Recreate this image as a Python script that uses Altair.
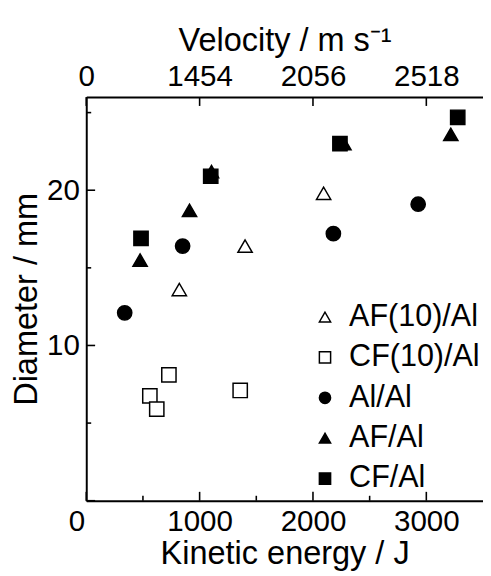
import altair as alt
import pandas as pd

series = ["AF(10)/Al", "CF(10)/Al", "Al/Al", "AF/Al", "CF/Al"]
shapes = ["triangle-up", "square", "circle", "triangle-up", "square"]
fills = ["white", "white", "black", "black", "black"]
strokes = ["black", "black", "black", "black", "black"]

af10_energy = [821, 1401, 2094]
af10_diam = [13.6, 16.4, 19.8]
cf10_energy = [561, 622, 729, 1358]
cf10_diam = [6.75, 5.9, 8.1, 7.1]
alal_energy = [339, 850, 2180, 2928]
alal_diam = [12.1, 16.4, 17.2, 19.1]
af_energy = [475, 911, 1105, 2273, 3216]
af_diam = [15.5, 18.7, 21.2, 23.0, 23.6]
cf_energy = [483, 1098, 2238, 3277]
cf_diam = [16.9, 20.9, 23.0, 24.7]

energy_ticks = [0, 1000, 2000, 3000]
energy_minor = [500, 1500, 2500]
velocity_labels = ["0", "1454", "2056", "2518"]
diam_ticks = [0, 10, 20]
diam_minor = [5, 15, 25]

W, H = 403, 410

rows = []
for name, es, ds in [
    ("AF(10)/Al", af10_energy, af10_diam),
    ("CF(10)/Al", cf10_energy, cf10_diam),
    ("Al/Al", alal_energy, alal_diam),
    ("AF/Al", af_energy, af_diam),
    ("CF/Al", cf_energy, cf_diam),
]:
    for e, d in zip(es, ds):
        rows.append({"series": name, "energy": e, "diam": d})
df = pd.DataFrame(rows)

FONT = "Liberation Sans"
xscale = alt.Scale(domain=[0, 3500], nice=False, zero=False)
yscale = alt.Scale(domain=[0, 26], nice=False, zero=False)

top_expr = "''"
for v, lab in zip(reversed(energy_ticks), reversed(velocity_labels)):
    top_expr = f"datum.value == {v} ? '{lab}' : ({top_expr})"

legend = alt.Legend(
    orient="none", legendX=227, legendY=208, title=None,
    symbolSize=130, symbolStrokeWidth=1.5,
    labelFontSize=31, labelFont=FONT, labelColor="black",
    rowPadding=9, padding=0, labelOffset=9, labelLimit=300,
)

order_list = "[" + ",".join(f"'{s}'" for s in series) + "]"

points = alt.Chart(df).mark_point(filled=True, size=210, strokeWidth=1.5, opacity=1).encode(
    x=alt.X("energy:Q", scale=xscale, axis=alt.Axis(
        orient="bottom", values=energy_ticks, ticks=False, format="d", labelFlush=False,
        labelOffset={"condition": {"test": "datum.value == 0", "value": -10}, "value": 0},
        labelPadding=6, title="Kinetic energy / J", titlePadding=2)),
    y=alt.Y("diam:Q", scale=yscale, axis=alt.Axis(
        orient="left", values=diam_ticks, ticks=False, labelFlush=False,
        labelExpr="datum.value == 0 ? '' : datum.label",
        labelPadding=7, title="Diameter / mm", titlePadding=3)),
    shape=alt.Shape("series:N", scale=alt.Scale(domain=series, range=shapes), legend=legend),
    fill=alt.Fill("series:N", scale=alt.Scale(domain=series, range=fills), legend=legend),
    stroke=alt.Stroke("series:N", scale=alt.Scale(domain=series, range=strokes), legend=legend),
    order=alt.Order("idx:Q"),
).transform_calculate(idx=f"indexof({order_list}, datum.series)")

top = alt.Chart(df).mark_point(opacity=0).encode(
    x=alt.X("energy:Q", scale=xscale, axis=alt.Axis(
        orient="top", values=energy_ticks, ticks=False, labelFlush=False,
        labelExpr=top_expr, labelPadding=6,
        title="Velocity / m s\u207b\u00b9", titlePadding=4)),
    y=alt.Y("diam:Q", scale=yscale, axis=None),
)


# inward tick marks, positioned through the shared scales
def xticks(vals, y0, y1):
    return alt.Chart(pd.DataFrame({"v": vals})).mark_rule(color="black", strokeWidth=1.6).encode(
        x=alt.X("v:Q", scale=xscale, axis=None),
        y=alt.value(y0), y2=alt.value(y1),
    )


def yticks(vals, length):
    return alt.Chart(pd.DataFrame({"v": vals})).mark_rule(color="black", strokeWidth=1.6).encode(
        y=alt.Y("v:Q", scale=yscale, axis=None),
        x=alt.value(0), x2=alt.value(length),
    )


ticks = [
    xticks(energy_ticks, H, H - 9),
    xticks(energy_minor, H, H - 5),
    xticks(energy_ticks, 0, 9),
    yticks(diam_ticks, 9),
    yticks(diam_minor, 5),
]

chart = alt.layer(points, top, *ticks).resolve_axis(
    x="independent", y="independent"
).properties(
    width=W, height=H,
    autosize=alt.AutoSizeParams(type="none"),
    padding={"left": 79.5, "top": 86, "right": 0, "bottom": 72},
).configure(font=FONT).configure_axis(
    labelFont=FONT, titleFont=FONT, labelFontSize=30, titleFontSize=33,
    titleFontWeight="normal", labelColor="black", titleColor="black",
    domainColor="black", tickColor="black", domainWidth=2, tickWidth=1.5,
    grid=False,
).configure_view(stroke=None)

chart.save("out.html", embed_options={"renderer": "svg", "actions": False})
